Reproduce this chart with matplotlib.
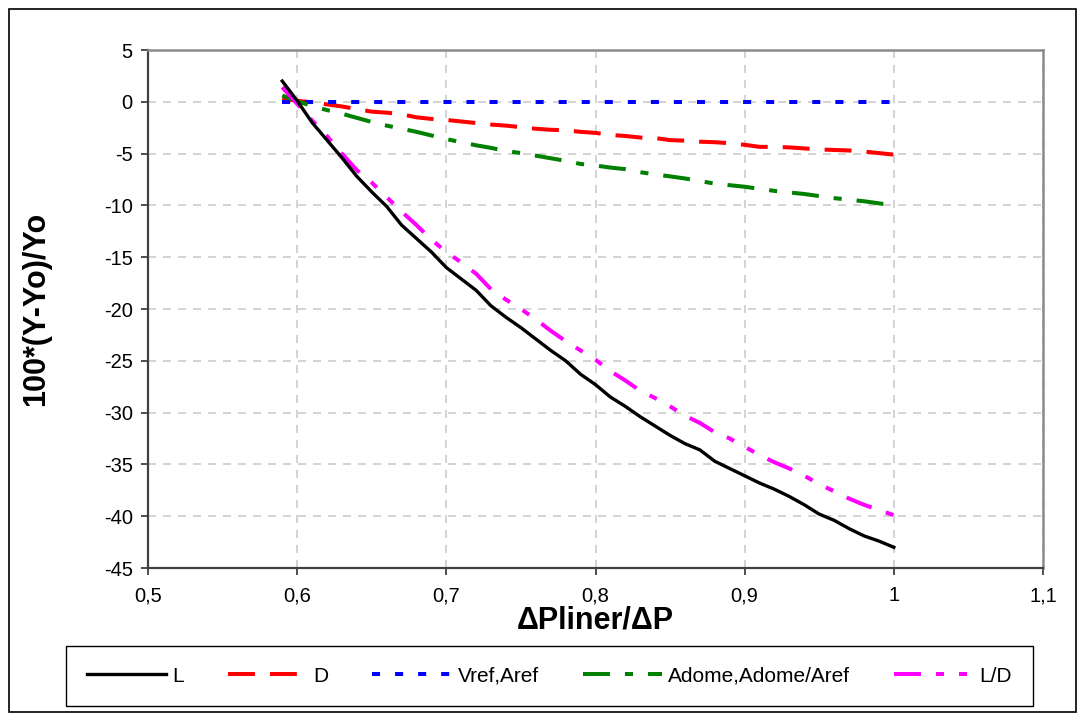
import matplotlib
matplotlib.use("Agg")
import matplotlib.pyplot as plt
from matplotlib.ticker import FuncFormatter, MultipleLocator
from matplotlib.patches import Rectangle

plt.rcParams["font.family"] = ["Liberation Sans", "DejaVu Sans"]
plt.rcParams["axes.unicode_minus"] = False
plt.rcParams["lines.scale_dashes"] = False

# pressure ratio
ratio = [0.59, 0.60, 0.61, 0.62, 0.63, 0.64, 0.65, 0.66, 0.67, 0.68,
         0.69, 0.70, 0.71, 0.72, 0.73, 0.74, 0.75, 0.76, 0.77, 0.78,
         0.79, 0.80, 0.81, 0.82, 0.83, 0.84, 0.85, 0.86, 0.87, 0.88,
         0.89, 0.90, 0.91, 0.92, 0.93, 0.94, 0.95, 0.96, 0.97, 0.98,
         0.99, 1.00]

# relative change in %, one list per quantity
lift = [2.0, 0.1, -2.0, -3.7, -5.4, -7.2, -8.7, -10.1, -11.9, -13.2,
        -14.5, -16.0, -17.1, -18.2, -19.7, -20.8, -21.8, -22.9, -24.0, -25.0,
        -26.3, -27.3, -28.5, -29.4, -30.4, -31.3, -32.2, -33.0, -33.6, -34.7,
        -35.4, -36.1, -36.8, -37.4, -38.1, -38.9, -39.8, -40.4, -41.2, -41.9,
        -42.4, -43.0]

drag = [0.3, 0.1, -0.05, -0.25, -0.45, -0.7, -0.95, -1.05, -1.2, -1.5,
        -1.65, -1.75, -1.9, -2.05, -2.2, -2.3, -2.45, -2.6, -2.7, -2.75,
        -2.9, -3.0, -3.2, -3.3, -3.45, -3.5, -3.7, -3.75, -3.85, -3.9,
        -4.0, -4.15, -4.35, -4.35, -4.4, -4.5, -4.6, -4.65, -4.7, -4.8,
        -4.95, -5.1]

vref = [0.0] * 42

adome = [0.6, 0.05, -0.4, -0.8, -1.15, -1.55, -1.95, -2.3, -2.6, -2.9,
         -3.25, -3.6, -3.9, -4.2, -4.45, -4.75, -4.95, -5.2, -5.45, -5.7,
         -6.0, -6.15, -6.35, -6.5, -6.8, -7.0, -7.2, -7.4, -7.65, -7.9,
         -8.05, -8.2, -8.4, -8.6, -8.75, -8.9, -9.1, -9.3, -9.45, -9.6,
         -9.8, -10.0]

lift_drag = [1.4, -0.2, -1.8, -3.3, -5.0, -6.6, -7.8, -9.2, -10.6, -11.9,
             -13.3, -14.5, -15.5, -16.6, -18.1, -19.1, -20.0, -21.0, -22.1, -23.1,
             -24.0, -24.9, -26.0, -26.9, -27.9, -28.6, -29.4, -30.3, -31.0, -31.9,
             -32.5, -33.3, -34.1, -34.8, -35.4, -36.1, -36.9, -37.6, -38.3, -38.9,
             -39.4, -39.9]


def comma_fmt(v, pos):
    return f"{round(v, 2):g}".replace(".", ",")


fig = plt.figure(figsize=(10.85, 7.22), dpi=100)
ax = fig.add_axes([148 / 1085, 1 - 568 / 722, 895 / 1085, 518 / 722])

ax.plot(ratio, lift, color="black", lw=2.4, label="L", zorder=5)
ax.plot(ratio, drag, color="#ff0000", lw=2.9,
        linestyle=(0, (19.4, 10.8)), label="D", zorder=4)
ax.plot(ratio, vref, color="#0000ff", lw=2.9,
        linestyle=(0, (5.8, 10.8)), label="Vref,Aref", zorder=4)
ax.plot(ratio, adome, color="#008000", lw=2.9,
        linestyle=(0, (19.4, 10.8, 5.8, 10.8)), label="Adome,Adome/Aref", zorder=4)
ax.plot(ratio, lift_drag, color="#ff00ff", lw=2.9,
        linestyle=(0, (19.4, 10.8, 5.8, 10.8, 5.8, 10.8)), label="L/D", zorder=4)

ax.set_xlim(0.5, 1.1)
ax.set_ylim(-45, 5)
ax.xaxis.set_major_locator(MultipleLocator(0.1))
ax.yaxis.set_major_locator(MultipleLocator(5))
ax.xaxis.set_major_formatter(FuncFormatter(comma_fmt))
ax.yaxis.set_major_formatter(FuncFormatter(comma_fmt))

ax.grid(True, color="#c8c8c8", lw=1.1, linestyle=(0, (5.8, 5.0)))
ax.set_axisbelow(True)

ax.tick_params(axis="both", labelsize=14.5, length=5, width=1.3, color="#404040")
ax.tick_params(axis="x", pad=8)
ax.tick_params(axis="y", pad=6)

for side in ["left", "bottom"]:
    ax.spines[side].set_color("#404040")
    ax.spines[side].set_linewidth(1.6)
for side in ["top", "right"]:
    ax.spines[side].set_color("#8c8c8c")
    ax.spines[side].set_linewidth(1.8)

ax.set_xlabel("ΔPliner/ΔP", fontsize=22, fontweight="bold", labelpad=0)
ax.set_ylabel("100*(Y-Yo)/Yo", fontsize=22, fontweight="bold", labelpad=38)

leg = fig.legend(loc="center", bbox_to_anchor=(549.5 / 1085, 1 - 676 / 722),
                 ncol=5, fontsize=15, handlelength=3.8, handletextpad=0.3,
                 columnspacing=2.1, borderpad=1.0, fancybox=False,
                 framealpha=1, edgecolor="black")
leg.get_frame().set_linewidth(1.0)

# border round the whole chart
fig.patches.append(Rectangle((9 / 1085, 1 - 712 / 722), 1067 / 1085, 703 / 722,
                             transform=fig.transFigure, fill=False,
                             edgecolor="black", lw=1.2))

fig.savefig("out.png", dpi=100)
